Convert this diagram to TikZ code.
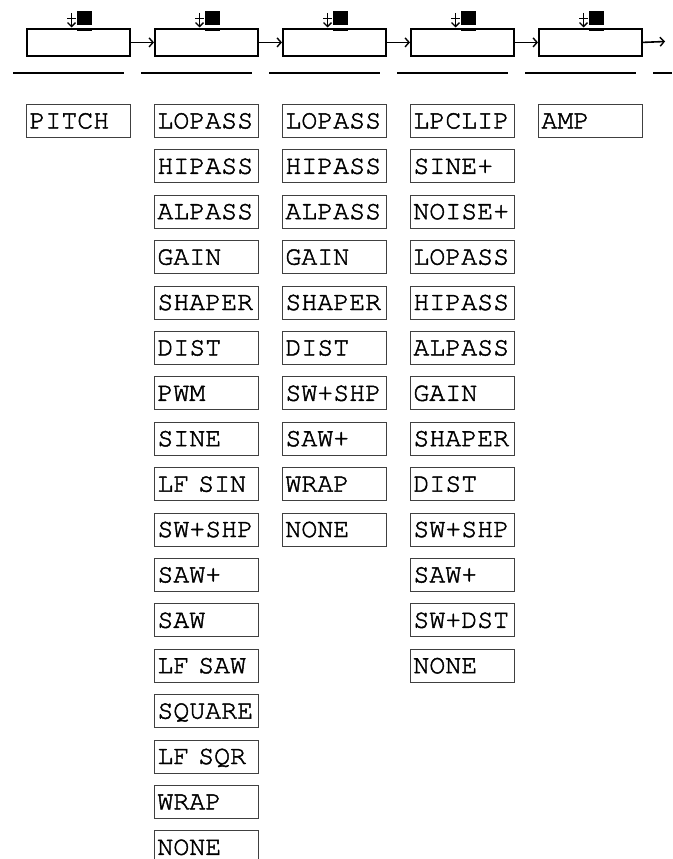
\documentclass[tikz,border=0pt]{standalone}
\usepackage[T1]{fontenc}
\usetikzlibrary{arrows.meta}
\newcommand{\fbtext}[1]{\special{pdf:literal direct 2 Tr 0.45 w}#1\special{pdf:literal direct 0 Tr}}
\tikzset{
  optbox/.style={draw=black!75, line width=0.8pt, anchor=north west, rectangle,
    minimum width=104pt, minimum height=33pt, text width=98pt, inner xsep=3pt, inner ysep=0pt,
    align=left, text height=15pt, text depth=0pt,
    font=\fontfamily{pcr}\fontseries{m}\fontshape{n}\fontsize{26.6}{26.6}\selectfont},
  blockbox/.style={draw=black, line width=1.8pt, anchor=north west, rectangle,
    minimum width=103pt, minimum height=27pt, inner sep=0pt},
  chainarrow/.style={line width=1.6pt, -{Straight Barb[length=4pt,width=9pt,line width=1.4pt]}},
  slotline/.style={line width=2pt},
}
\begin{document}
\begin{tikzpicture}[x=1pt,y=-1pt]
\useasboundingbox (0,0) rectangle (672,859);
% top blocks
\foreach \i in {1,...,5}{
  \pgfmathsetmacro{\bx}{26+128*(\i-1)}
  \node[blockbox] (blk\i) at (\bx,28) {};
  % icon: black square with tray line
  \fill[black] (\bx+51,11) rectangle (\bx+66,25.5);
  \fill[white] (\bx+51,25.5) rectangle (\bx+66,27.6);
  \fill[black] (\bx+51,27.6) rectangle (\bx+66,31.2);
  % small down arrow with cross stroke
  \draw[line width=1.4pt, -{Straight Barb[length=4pt,width=8pt,line width=1.3pt]}] (\bx+45.5,13) -- (\bx+45.5,27.5);
  \draw[line width=1.3pt] (\bx+41,18.5) -- (\bx+49.5,18.5);
  % slot line beneath
  \draw[slotline] (\bx-13,73) -- (\bx+98,73);
}
\draw[slotline] (653,73) -- (672,73);
\coordinate (out) at (665,41.5);
\foreach \a/\b in {1/2,2/3,3/4,4/5}{
  \draw[chainarrow] (blk\a.east) -- (blk\b.west);
}
\draw[chainarrow] (blk5.east) -- (out);
% option columns
\def\pitch{45.4}
\node[optbox] (c1-1) at (26,104) {\fbtext{PITCH}};
\foreach \t [count=\n from 0] in {LOPASS,HIPASS,ALPASS,GAIN,SHAPER,DIST,PWM,SINE,LF SIN,SW+SHP,SAW+,SAW,LF SAW,SQUARE,LF SQR,WRAP,NONE}{
  \node[optbox] (c2-\n) at (154,104+\pitch*\n) {\fbtext{\t}};
}
\foreach \t [count=\n from 0] in {LOPASS,HIPASS,ALPASS,GAIN,SHAPER,DIST,SW+SHP,SAW+,WRAP,NONE}{
  \node[optbox] (c3-\n) at (282,104+\pitch*\n) {\fbtext{\t}};
}
\foreach \t [count=\n from 0] in {LPCLIP,SINE+,NOISE+,LOPASS,HIPASS,ALPASS,GAIN,SHAPER,DIST,SW+SHP,SAW+,SW+DST,NONE}{
  \node[optbox] (c4-\n) at (410,104+\pitch*\n) {\fbtext{\t}};
}
\node[optbox] (c5-1) at (538,104) {\fbtext{AMP}};
\end{tikzpicture}
\end{document}
